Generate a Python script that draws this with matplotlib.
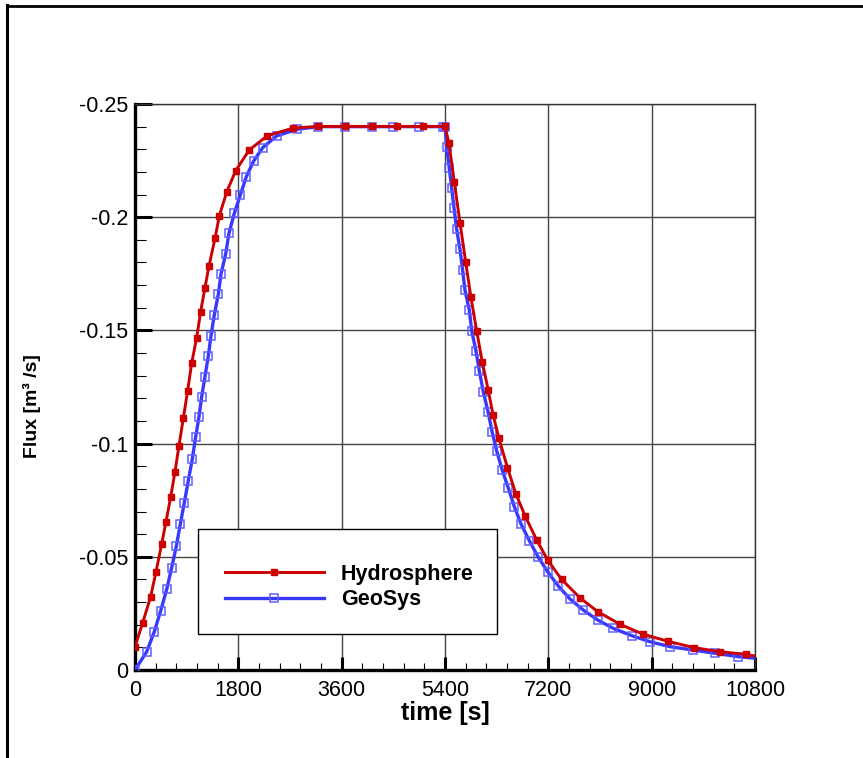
import matplotlib
matplotlib.use("Agg")
import matplotlib.pyplot as plt
from matplotlib.lines import Line2D
from matplotlib.patches import Rectangle
from matplotlib.ticker import MultipleLocator

plt.rcParams["font.family"] = ["Liberation Sans", "DejaVu Sans"]

# Hydrosphere
hydro_t = [0, 134, 273, 366, 465, 540, 622, 697, 766, 842, 917, 987, 1074, 1144,
           1219, 1290, 1394, 1470, 1600, 1755, 1991, 2305, 2757, 3193, 3658, 4123,
           4560, 5009, 5400, 5470, 5562, 5661, 5760, 5852, 5951, 6048, 6152, 6238,
           6337, 6488, 6636, 6793, 6997, 7188, 7431, 7750, 8059, 8448, 8843, 9279,
           9737, 10190, 10638, 10800]
hydro_q = [-0.0103, -0.0209, -0.0324, -0.0434, -0.0557, -0.0655, -0.0765, -0.0876,
           -0.0991, -0.1112, -0.1234, -0.1355, -0.1468, -0.1583, -0.1689, -0.1786,
           -0.1907, -0.2007, -0.2113, -0.2206, -0.2297, -0.2360, -0.2394, -0.2401,
           -0.2401, -0.2401, -0.2401, -0.2401, -0.2401, -0.2326, -0.2154, -0.1976,
           -0.1802, -0.1646, -0.1499, -0.1362, -0.1237, -0.1126, -0.1026, -0.0894,
           -0.0777, -0.0682, -0.0574, -0.0486, -0.0400, -0.0319, -0.0258, -0.0202,
           -0.0159, -0.0127, -0.0099, -0.0081, -0.0069, -0.0062]

# GeoSys
geo_t = [0, 204, 336, 448, 552, 639, 719, 789, 859, 928, 998, 1057, 1115, 1161,
         1219, 1277, 1324, 1381, 1451, 1498, 1579, 1637, 1730, 1834, 1939, 2067,
         2224, 2468, 2816, 3193, 3658, 4123, 4490, 4940, 5364, 5400, 5429, 5475,
         5516, 5558, 5603, 5661, 5707, 5748, 5823, 5865, 5940, 5997, 6067, 6152,
         6222, 6299, 6397, 6503, 6607, 6724, 6869, 7025, 7188, 7373, 7576, 7808,
         8059, 8331, 8649, 8969, 9318, 9726, 10103, 10509, 10800]
geo_q = [0.0, -0.0081, -0.0169, -0.0262, -0.0356, -0.0452, -0.0546, -0.0644,
         -0.0739, -0.0836, -0.0932, -0.1030, -0.1119, -0.1207, -0.1296, -0.1387,
         -0.1477, -0.1568, -0.1659, -0.1749, -0.1837, -0.1929, -0.2017, -0.2098,
         -0.2179, -0.2248, -0.2307, -0.2359, -0.2388, -0.2400, -0.2400, -0.2400,
         -0.2400, -0.2400, -0.2400, -0.2400, -0.2311, -0.2216, -0.2128, -0.2039,
         -0.1947, -0.1858, -0.1767, -0.1678, -0.1590, -0.1499, -0.1409, -0.1322,
         -0.1229, -0.1138, -0.1050, -0.0969, -0.0883, -0.0803, -0.0722, -0.0645,
         -0.0571, -0.0498, -0.0434, -0.0371, -0.0314, -0.0265, -0.0221, -0.0184,
         -0.0152, -0.0125, -0.0103, -0.0088, -0.0074, -0.0059, -0.0052]

xticks = [0, 1800, 3600, 5400, 7200, 9000, 10800]
yticks = [0, -0.05, -0.1, -0.15, -0.2, -0.25]
ytick_labels = ["0", "-0.05", "-0.1", "-0.15", "-0.2", "-0.25"]

W, H = 863, 758
fig = plt.figure(figsize=(W / 100, H / 100), dpi=100)
ax = fig.add_axes([135 / W, 1 - 670 / H, 620 / W, 566 / H])

red = "#cc0000"
blue = "#3838ff"

ax.plot(geo_t, geo_q, color=blue, lw=2.4, marker="s", ms=5.5, mfc="none",
        mec="#5f5fff", mew=1.1, markevery=list(range(len(geo_t) - 1)),
        label="GeoSys", zorder=3)
ax.plot(hydro_t, hydro_q, color=red, lw=2.1, marker="s", ms=5, mfc=red,
        mec=red, markevery=list(range(len(hydro_t) - 1)),
        label="Hydrosphere", zorder=4)

ax.set_xlim(0, 10800)
ax.set_ylim(0, -0.25)
ax.set_xticks(xticks)
ax.set_xticklabels([str(v) for v in xticks])
ax.set_yticks(yticks)
ax.set_yticklabels(ytick_labels)
ax.xaxis.set_minor_locator(MultipleLocator(360))
ax.yaxis.set_minor_locator(MultipleLocator(0.01))

ax.grid(True, which="major", color="#444444", lw=1.0)
ax.set_axisbelow(True)

ax.tick_params(axis="both", which="both", direction="in", labelsize=15.5,
               top=False, right=False)
ax.tick_params(axis="x", which="major", length=9.5, width=2.2, pad=7)
ax.tick_params(axis="x", which="minor", length=5, width=0.8)
ax.tick_params(axis="y", which="major", length=12, width=2.2, pad=5)
ax.tick_params(axis="y", which="minor", length=8, width=0.8)

for side in ["left", "bottom"]:
    ax.spines[side].set_linewidth(2.4)
    ax.spines[side].set_color("black")
for side in ["top", "right"]:
    ax.spines[side].set_linewidth(1.0)
    ax.spines[side].set_color("#333333")

ax.set_xlabel("time [s]", fontsize=18, fontweight="bold", labelpad=0)
ax.set_ylabel("Flux [m³ /s]", fontsize=14, fontweight="bold")
ax.yaxis.set_label_coords(-0.152, 0.466)

# legend box
ax.add_patch(Rectangle((0.1016, 0.0636), 0.4823, 0.1855, transform=ax.transAxes,
                       facecolor="white", edgecolor="black", lw=1.0, zorder=5))
handles, labels = ax.get_legend_handles_labels()
leg = ax.legend(handles[::-1], labels[::-1], loc="center left",
                bbox_to_anchor=(0.1275, 0.1466), frameon=False, borderpad=0,
                handlelength=4.6, handletextpad=0.8, labelspacing=0.2,
                prop={"size": 15.5, "weight": "bold"}, markerscale=1.0)
leg.set_zorder(6)

# outer frame (left and top edges)
fig.add_artist(Line2D([7 / W, 7 / W], [0, 1 - 5 / H], color="black", lw=2.2,
                      transform=fig.transFigure))
fig.add_artist(Line2D([7 / W, 1], [1 - 6 / H, 1 - 6 / H], color="black", lw=2.0,
                      transform=fig.transFigure))

fig.savefig("out.png", dpi=100)
